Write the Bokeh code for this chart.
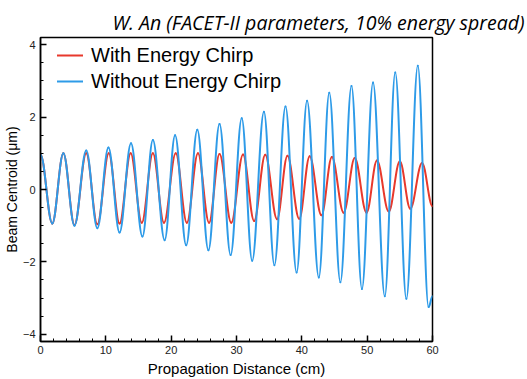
from bokeh.plotting import figure
from bokeh.models import Range1d, FixedTicker, Legend, LegendItem, Title, ColumnDataSource
from bokeh.embed import file_html
from bokeh.resources import INLINE

# ---- data ----
title_text = "W. An (FACET-II parameters, 10% energy spread)"
x_label = "Propagation Distance (cm)"
y_label = "Beam Centroid (\u03bcm)"
x_ticks = [0, 10, 20, 30, 40, 50, 60]
y_ticks = [-4, -2, 0, 2, 4]

# Without energy chirp (blue): turning points
blue_peak_x = [0.0, 3.5, 7.0, 10.4, 13.85, 17.2, 20.6, 24.0, 27.4, 30.8, 34.2, 37.5, 40.8, 44.2, 47.6, 50.9, 54.3, 57.75]
blue_peak_y = [0.97, 1.0, 1.08, 1.16, 1.28, 1.37, 1.5, 1.65, 1.81, 1.97, 2.15, 2.29, 2.45, 2.67, 2.86, 2.96, 3.23, 3.42]
blue_trough_x = [1.8, 5.2, 8.7, 12.1, 15.6, 19.0, 22.3, 25.7, 29.1, 32.4, 35.8, 39.2, 42.6, 45.9, 49.2, 52.7, 56.0, 59.4]
blue_trough_y = [-0.94, -1.0, -1.07, -1.19, -1.30, -1.40, -1.54, -1.68, -1.81, -1.97, -2.09, -2.29, -2.43, -2.56, -2.75, -2.95, -3.02, -3.25]
blue_end = (60.0, -2.95)

# With energy chirp (red): turning points
red_peak_x = [0.0, 3.5, 7.0, 10.45, 13.8, 17.2, 20.7, 24.1, 27.4, 31.0, 34.4, 37.8, 41.2, 44.6, 48.1, 51.5, 55.0, 58.4]
red_peak_y = [0.97, 1.0, 1.0, 1.0, 1.0, 1.0, 1.0, 1.0, 0.98, 0.97, 0.96, 0.93, 0.92, 0.90, 0.87, 0.80, 0.78, 0.73]
red_trough_x = [1.8, 5.2, 8.7, 12.1, 15.5, 18.9, 22.4, 25.8, 29.2, 32.7, 36.2, 39.6, 43.0, 46.4, 49.9, 53.3, 56.6]
red_trough_y = [-0.94, -0.98, -0.96, -0.94, -0.92, -0.92, -0.92, -0.92, -0.92, -0.87, -0.82, -0.81, -0.71, -0.64, -0.64, -0.61, -0.53]
red_end = (60.0, -0.46)

series_names = ["With Energy Chirp", "Without Energy Chirp"]
series_colors = ["#e8392c", "#2e9be8"]


def turning_points(px, py, tx, ty, end):
    pts = sorted(list(zip(px, py)) + list(zip(tx, ty)))
    pts.append(end)
    return pts


def bezier_source(pts):
    x0, y0, x1, y1, cx0, cy0, cx1, cy1 = [], [], [], [], [], [], [], []
    for (a, b), (c, d) in zip(pts[:-1], pts[1:]):
        k = 0.364 * (c - a)
        x0.append(a); y0.append(b); x1.append(c); y1.append(d)
        cx0.append(a + k); cy0.append(b); cx1.append(c - k); cy1.append(d)
    return ColumnDataSource(dict(x0=x0, y0=y0, x1=x1, y1=y1, cx0=cx0, cy0=cy0, cx1=cx1, cy1=cy1))


p = figure(width=527, height=379, output_backend="svg", toolbar_location=None,
           x_range=Range1d(0, 60), y_range=Range1d(-4.2, 4.2),
           min_border_left=40, min_border_right=95, min_border_top=37, min_border_bottom=36)
p.background_fill_color = "white"
p.border_fill_color = "white"
p.outline_line_color = "black"
p.outline_line_width = 1.5
p.xgrid.visible = False
p.ygrid.visible = False

red_src = bezier_source(turning_points(red_peak_x, red_peak_y, red_trough_x, red_trough_y, red_end))
blue_src = bezier_source(turning_points(blue_peak_x, blue_peak_y, blue_trough_x, blue_trough_y, blue_end))

r_red = p.bezier(x0="x0", y0="y0", x1="x1", y1="y1", cx0="cx0", cy0="cy0", cx1="cx1", cy1="cy1",
                 source=red_src, line_color=series_colors[0], line_width=2, line_cap="round")
r_blue = p.bezier(x0="x0", y0="y0", x1="x1", y1="y1", cx0="cx0", cy0="cy0", cx1="cx1", cy1="cy1",
                  source=blue_src, line_color=series_colors[1], line_width=2, line_cap="round")

legend = Legend(items=[LegendItem(label=series_names[0], renderers=[r_red]),
                       LegendItem(label=series_names[1], renderers=[r_blue])],
                location=(17, 248), border_line_color=None, background_fill_alpha=0,
                label_text_font="Liberation Sans", label_text_font_size="20px",
                label_text_color="black", glyph_width=26, glyph_height=24, label_height=24,
                label_standoff=8, spacing=2, padding=7, margin=0)
p.add_layout(legend, "center")

for ax in (p.xaxis[0], p.yaxis[0]):
    ax.axis_line_width = 1.5
    ax.axis_line_color = "black"
    ax.major_tick_in = 6
    ax.major_tick_out = 0
    ax.minor_tick_in = 3
    ax.minor_tick_out = 0
    ax.major_tick_line_width = 1.5
    ax.minor_tick_line_width = 1
    ax.major_tick_line_color = "black"
    ax.minor_tick_line_color = "black"
    ax.major_label_text_font = "Liberation Sans"
    ax.major_label_text_font_size = "11px"
    ax.major_label_text_color = "#222222"
    ax.axis_label_text_font = "Liberation Sans"
    ax.axis_label_text_font_size = "15px"
    ax.axis_label_text_font_style = "normal"
    ax.axis_label_text_color = "black"

p.yaxis.axis_label_text_font_size = "14px"
p.xaxis.ticker = FixedTicker(ticks=x_ticks, minor_ticks=list(range(0, 61, 2)))
p.yaxis.ticker = FixedTicker(ticks=y_ticks, minor_ticks=[v / 2 for v in range(-8, 9)])
p.xaxis.axis_label = x_label
p.yaxis.axis_label = y_label
p.xaxis.major_label_standoff = 4
p.yaxis.major_label_standoff = 5
p.xaxis.axis_label_standoff = 3
p.yaxis.axis_label_standoff = 0

t = Title(text=title_text, align="right", offset=-92, text_font="Open Sans",
          text_font_style="italic", text_font_size="19.5px", text_color="black", standoff=4)
p.add_layout(t, "above")

open("out.html", "w").write(file_html(p, INLINE))
